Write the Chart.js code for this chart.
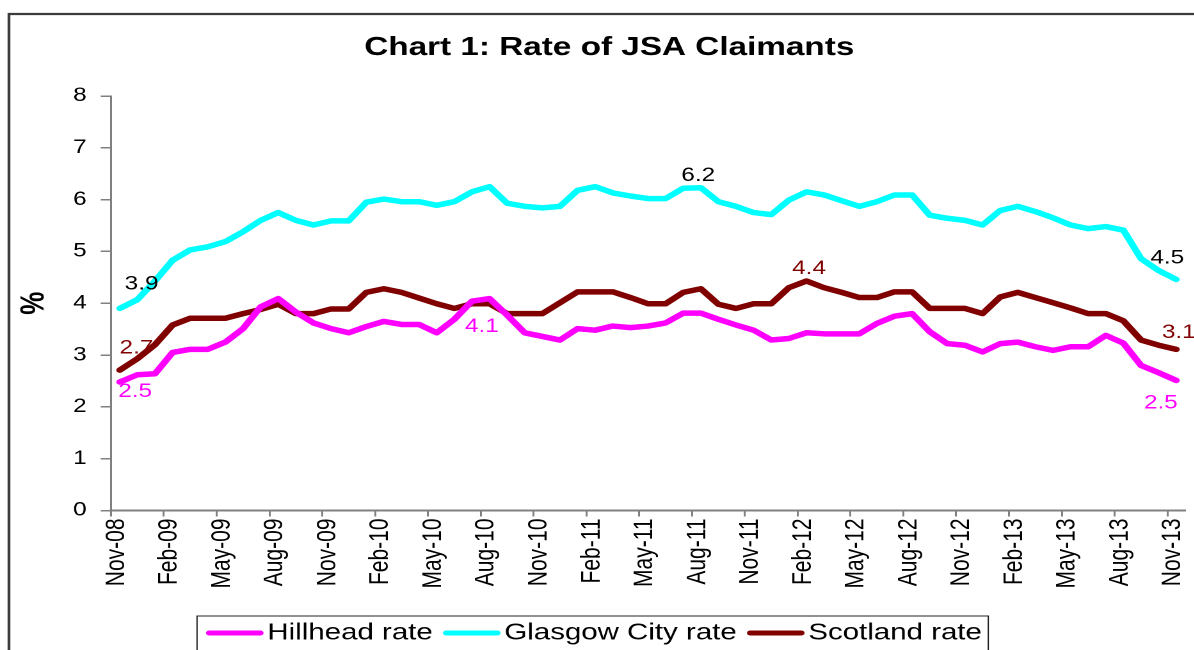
<!DOCTYPE html>
<html>
<head>
<meta charset="utf-8">
<script src="https://cdn.jsdelivr.net/npm/chart.js@4.4.0/dist/chart.umd.min.js"></script>
<style>
  html, body { margin: 0; padding: 0; background: #fff; overflow: hidden; }
  #wrap { width: 1194px; height: 650px; overflow: hidden; }
  /* the original picture is stretched sideways, so the canvas is too */
  #chart { transform: scaleX(1.28); transform-origin: 0 0; }
</style>
</head>
<body>
<div id="wrap"><canvas id="chart" width="933" height="660"></canvas></div>
<script>
const months = [
  'Nov-08','Dec-08','Jan-09','Feb-09','Mar-09','Apr-09','May-09','Jun-09','Jul-09','Aug-09','Sep-09','Oct-09',
  'Nov-09','Dec-09','Jan-10','Feb-10','Mar-10','Apr-10','May-10','Jun-10','Jul-10','Aug-10','Sep-10','Oct-10',
  'Nov-10','Dec-10','Jan-11','Feb-11','Mar-11','Apr-11','May-11','Jun-11','Jul-11','Aug-11','Sep-11','Oct-11',
  'Nov-11','Dec-11','Jan-12','Feb-12','Mar-12','Apr-12','May-12','Jun-12','Jul-12','Aug-12','Sep-12','Oct-12',
  'Nov-12','Dec-12','Jan-13','Feb-13','Mar-13','Apr-13','May-13','Jun-13','Jul-13','Aug-13','Sep-13','Oct-13',
  'Nov-13'
];

const hillhead = [
  2.48, 2.62, 2.64, 3.05, 3.11, 3.11, 3.25, 3.51, 3.93, 4.09, 3.83, 3.62,
  3.51, 3.43, 3.55, 3.65, 3.59, 3.59, 3.43, 3.69, 4.04, 4.09, 3.77, 3.43,
  3.36, 3.29, 3.51, 3.48, 3.56, 3.53, 3.56, 3.62, 3.81, 3.81, 3.69, 3.58,
  3.48, 3.29, 3.32, 3.43, 3.41, 3.41, 3.41, 3.61, 3.75, 3.80, 3.45, 3.22,
  3.19, 3.06, 3.22, 3.25, 3.16, 3.09, 3.16, 3.16, 3.38, 3.23, 2.80, 2.66,
  2.51
];

const glasgow = [
  3.90, 4.07, 4.43, 4.83, 5.03, 5.09, 5.19, 5.38, 5.60, 5.75, 5.60, 5.51,
  5.59, 5.59, 5.95, 6.01, 5.96, 5.96, 5.89, 5.96, 6.15, 6.25, 5.93, 5.87,
  5.84, 5.87, 6.18, 6.25, 6.13, 6.07, 6.02, 6.02, 6.22, 6.23, 5.96, 5.87,
  5.75, 5.71, 5.99, 6.15, 6.09, 5.98, 5.87, 5.96, 6.09, 6.09, 5.70, 5.64,
  5.60, 5.51, 5.79, 5.87, 5.77, 5.65, 5.51, 5.44, 5.48, 5.41, 4.86, 4.63,
  4.46
];

const scotland = [
  2.71, 2.93, 3.20, 3.58, 3.71, 3.71, 3.71, 3.80, 3.88, 3.98, 3.80, 3.80,
  3.89, 3.89, 4.21, 4.28, 4.21, 4.10, 3.99, 3.90, 3.99, 3.99, 3.80, 3.80,
  3.80, 4.01, 4.22, 4.22, 4.22, 4.11, 3.99, 3.99, 4.21, 4.28, 3.98, 3.90,
  3.99, 3.99, 4.30, 4.43, 4.30, 4.21, 4.11, 4.11, 4.22, 4.22, 3.90, 3.90,
  3.90, 3.80, 4.12, 4.21, 4.11, 4.01, 3.91, 3.80, 3.80, 3.66, 3.29, 3.19,
  3.11
];

const yTicks = [0, 1, 2, 3, 4, 5, 6, 7, 8];

const FONT = '"Liberation Sans", Arial, sans-serif';
Chart.defaults.font.family = FONT;
Chart.defaults.color = '#000';

// frame, title and the boxed legend at the bottom
const decor = {
  id: 'decor',
  beforeDraw(chart) {
    const ctx = chart.ctx;
    ctx.save();
    ctx.strokeStyle = '#3c3c3c';
    ctx.lineWidth = 2.2;
    ctx.beginPath();
    ctx.moveTo(7, chart.height + 5);
    ctx.lineTo(7, 14);
    ctx.lineTo(chart.width + 5, 14);
    ctx.stroke();
    ctx.restore();
  },
  afterDraw(chart) {
    const ctx = chart.ctx;
    ctx.save();
    ctx.fillStyle = '#000';
    ctx.font = 'bold 26px ' + FONT;
    ctx.textAlign = 'center';
    ctx.textBaseline = 'middle';
    ctx.fillText('Chart 1: Rate of JSA Claimants', 476, 48);

    // legend
    const ds = chart.data.datasets;
    const lineW = 45, gapIn = 3, gapOut = 8, cy = 633;
    ctx.font = '23px ' + FONT;
    const widths = ds.map(d => lineW + gapIn + ctx.measureText(d.label).width);
    const total = widths.reduce((a, b) => a + b, 0) + gapOut * (ds.length - 1);
    let x = 464 - total / 2;
    const l = x - 7, r = x + total + 5, t = 616;
    ctx.strokeStyle = '#222';
    ctx.lineWidth = 1;
    ctx.beginPath();
    ctx.moveTo(l, chart.height + 5);
    ctx.lineTo(l, t);
    ctx.lineTo(r, t);
    ctx.lineTo(r, chart.height + 5);
    ctx.stroke();
    ctx.textAlign = 'left';
    ds.forEach((d, k) => {
      ctx.strokeStyle = d.borderColor;
      ctx.lineWidth = 5;
      ctx.lineCap = 'round';
      ctx.beginPath();
      ctx.moveTo(x + 2.5, cy);
      ctx.lineTo(x + lineW - 2.5, cy);
      ctx.stroke();
      ctx.fillStyle = '#000';
      ctx.fillText(d.label, x + lineW + gapIn, cy);
      x += widths[k] + gapOut;
    });
    ctx.restore();
  }
};

// value labels on a few points
const valueLabels = {
  id: 'valueLabels',
  afterDatasetsDraw(chart) {
    const ctx = chart.ctx;
    ctx.save();
    ctx.font = '19px ' + FONT;
    ctx.textAlign = 'center';
    ctx.textBaseline = 'middle';
    chart.data.datasets.forEach((ds, d) => {
      const meta = chart.getDatasetMeta(d);
      (ds.valueLabels || []).forEach(([i, dx, dy]) => {
        const p = meta.data[i];
        ctx.fillStyle = ds.labelColor;
        ctx.fillText(ds.data[i].toFixed(1), p.x + dx, p.y + dy);
      });
    });
    ctx.restore();
  }
};

const tickGray = '#808080';

new Chart(document.getElementById('chart'), {
  type: 'line',
  data: {
    labels: months,
    datasets: [
      {
        label: 'Hillhead rate',
        data: hillhead,
        borderColor: '#ff00ff',
        backgroundColor: '#ff00ff',
        labelColor: '#ff00ff',
        valueLabels: [[0, 12, 10], [21, -6, 28], [60, -12, 23]]
      },
      {
        label: 'Glasgow City rate',
        data: glasgow,
        borderColor: '#00ffff',
        backgroundColor: '#00ffff',
        labelColor: '#000',
        valueLabels: [[0, 17, -24], [33, -2, -12], [60, -7, -21]]
      },
      {
        label: 'Scotland rate',
        data: scotland,
        borderColor: '#800000',
        backgroundColor: '#800000',
        labelColor: '#800000',
        valueLabels: [[0, 13, -22], [39, 2, -12], [60, 2, -16.5]]
      }
    ]
  },
  options: {
    responsive: false,
    animation: false,
    devicePixelRatio: 2,
    layout: { padding: { top: 96, left: 8, right: 7.2, bottom: 62.5 } },
    elements: {
      line: { borderWidth: 5.5, tension: 0, borderCapStyle: 'round', borderJoinStyle: 'round' },
      point: { radius: 0, hoverRadius: 0 }
    },
    scales: {
      x: {
        offset: true,
        grid: {
          offset: true,
          drawOnChartArea: false,
          drawTicks: true,
          tickLength: 6,
          lineWidth: 1.5,
          color: c => (c.index % 3 === 0 ? tickGray : 'rgba(0,0,0,0)')
        },
        border: { color: tickGray, width: 2 },
        ticks: {
          autoSkip: false,
          maxRotation: 90,
          minRotation: 90,
          padding: 2,
          labelOffset: -2.5,
          font: { size: 21 },
          callback: function (v, i) { return i % 3 === 0 ? this.getLabelForValue(v) : ''; }
        },
        afterFit: s => { s.height = 87; s.paddingLeft = 0; s.paddingRight = 0; }
      },
      y: {
        min: yTicks[0],
        max: yTicks[yTicks.length - 1],
        grid: { drawOnChartArea: false, drawTicks: true, tickLength: 8, color: tickGray, lineWidth: 1.5 },
        border: { color: tickGray, width: 1.5 },
        ticks: { stepSize: 1, padding: 11, font: { size: 19 } },
        title: { display: true, text: '%', font: { size: 26, weight: 'bold' }, padding: { top: 3, bottom: 0 } },
        afterFit: s => { s.width = 78.7; }
      }
    },
    plugins: {
      title: { display: false },
      tooltip: { enabled: false },
      legend: { display: false }
    }
  },
  plugins: [decor, valueLabels]
});
</script>
</body>
</html>
